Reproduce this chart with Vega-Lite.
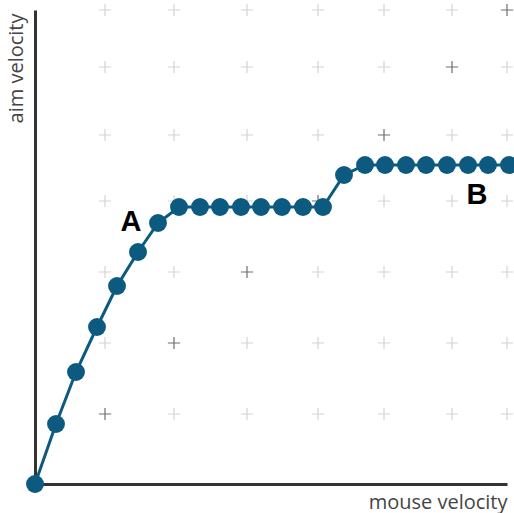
{
  "$schema": "https://vega.github.io/schema/vega-lite/v6.json",
  "width": 472,
  "height": 474,
  "autosize": {"type": "none"},
  "padding": {"left": 35, "top": 10, "right": 7, "bottom": 29},
  "background": "white",
  "config": {"view": {"stroke": null}, "font": "Open Sans"},
  "datasets": {
    "grid": [
      {"gx": 70, "gy": 70, "diag": "yes"}, {"gx": 139, "gy": 70, "diag": "no"}, {"gx": 212, "gy": 70, "diag": "no"}, {"gx": 283, "gy": 70, "diag": "no"}, {"gx": 349, "gy": 70, "diag": "no"}, {"gx": 417, "gy": 70, "diag": "no"}, {"gx": 472, "gy": 70, "diag": "no"},
      {"gx": 70, "gy": 141, "diag": "no"}, {"gx": 139, "gy": 141, "diag": "yes"}, {"gx": 212, "gy": 141, "diag": "no"}, {"gx": 283, "gy": 141, "diag": "no"}, {"gx": 349, "gy": 141, "diag": "no"}, {"gx": 417, "gy": 141, "diag": "no"}, {"gx": 472, "gy": 141, "diag": "no"},
      {"gx": 70, "gy": 212, "diag": "no"}, {"gx": 139, "gy": 212, "diag": "no"}, {"gx": 212, "gy": 212, "diag": "yes"}, {"gx": 283, "gy": 212, "diag": "no"}, {"gx": 349, "gy": 212, "diag": "no"}, {"gx": 417, "gy": 212, "diag": "no"}, {"gx": 472, "gy": 212, "diag": "no"},
      {"gx": 70, "gy": 283, "diag": "no"}, {"gx": 139, "gy": 283, "diag": "no"}, {"gx": 212, "gy": 283, "diag": "no"}, {"gx": 283, "gy": 283, "diag": "yes"}, {"gx": 349, "gy": 283, "diag": "no"}, {"gx": 417, "gy": 283, "diag": "no"}, {"gx": 472, "gy": 283, "diag": "no"},
      {"gx": 70, "gy": 349, "diag": "no"}, {"gx": 139, "gy": 349, "diag": "no"}, {"gx": 212, "gy": 349, "diag": "no"}, {"gx": 283, "gy": 349, "diag": "no"}, {"gx": 349, "gy": 349, "diag": "yes"}, {"gx": 417, "gy": 349, "diag": "no"}, {"gx": 472, "gy": 349, "diag": "no"},
      {"gx": 70, "gy": 417, "diag": "no"}, {"gx": 139, "gy": 417, "diag": "no"}, {"gx": 212, "gy": 417, "diag": "no"}, {"gx": 283, "gy": 417, "diag": "no"}, {"gx": 349, "gy": 417, "diag": "no"}, {"gx": 417, "gy": 417, "diag": "yes"}, {"gx": 472, "gy": 417, "diag": "no"},
      {"gx": 70, "gy": 474, "diag": "no"}, {"gx": 139, "gy": 474, "diag": "no"}, {"gx": 212, "gy": 474, "diag": "no"}, {"gx": 283, "gy": 474, "diag": "no"}, {"gx": 349, "gy": 474, "diag": "no"}, {"gx": 417, "gy": 474, "diag": "no"}, {"gx": 472, "gy": 474, "diag": "yes"}
    ],
    "curve": [
      {"mouse": 0, "aim": 0}, {"mouse": 21, "aim": 60}, {"mouse": 41, "aim": 112}, {"mouse": 62, "aim": 157},
      {"mouse": 82, "aim": 198}, {"mouse": 103, "aim": 232}, {"mouse": 123, "aim": 261}, {"mouse": 144, "aim": 277},
      {"mouse": 165, "aim": 277}, {"mouse": 185, "aim": 277}, {"mouse": 206, "aim": 277}, {"mouse": 226, "aim": 277},
      {"mouse": 247, "aim": 277}, {"mouse": 268, "aim": 277}, {"mouse": 288, "aim": 277}, {"mouse": 309, "aim": 309},
      {"mouse": 330, "aim": 319}, {"mouse": 350, "aim": 319}, {"mouse": 371, "aim": 319}, {"mouse": 391, "aim": 319},
      {"mouse": 412, "aim": 319}, {"mouse": 433, "aim": 319}, {"mouse": 453, "aim": 319}, {"mouse": 474, "aim": 319}
    ],
    "labels": [
      {"lx": 96, "ly": 262, "label": "A"},
      {"lx": 442, "ly": 289, "label": "B"}
    ]
  },
  "layer": [
    {
      "data": {"name": "grid"},
      "mark": {"type": "point", "shape": "M-1,0L1,0M0,-1L0,1", "filled": false, "strokeWidth": 1.2, "size": 150, "opacity": 1},
      "encoding": {
        "x": {
          "field": "gx", "type": "quantitative",
          "scale": {"domain": [0, 472], "nice": false, "zero": false},
          "axis": {
            "title": "mouse velocity", "domain": true, "domainColor": "#333333", "domainWidth": 3,
            "ticks": false, "labels": false, "grid": false,
            "titleX": 472, "titleY": 18, "titleAlign": "right", "titleBaseline": "middle",
            "titleFontWeight": "normal", "titleFontSize": 20, "titleColor": "#444444", "titleFont": "Open Sans"
          }
        },
        "y": {
          "field": "gy", "type": "quantitative",
          "scale": {"domain": [0, 474], "nice": false, "zero": false},
          "axis": {
            "title": "aim velocity", "domain": true, "domainColor": "#333333", "domainWidth": 3,
            "ticks": false, "labels": false, "grid": false,
            "titleAngle": 270, "titleX": -19, "titleY": 3, "titleAlign": "right", "titleBaseline": "middle",
            "titleFontWeight": "normal", "titleFontSize": 20, "titleColor": "#444444", "titleFont": "Open Sans"
          }
        },
        "color": {"field": "diag", "type": "nominal", "scale": {"domain": ["no", "yes"], "range": ["#d4d4d4", "#6e6e6e"]}, "legend": null}
      }
    },
    {
      "data": {"name": "curve"},
      "mark": {"type": "line", "color": "#0c5a7f", "strokeWidth": 3, "point": {"filled": true, "size": 320, "color": "#0c5a7f", "opacity": 1}},
      "encoding": {
        "x": {"field": "mouse", "type": "quantitative"},
        "y": {"field": "aim", "type": "quantitative"}
      }
    },
    {
      "data": {"name": "labels"},
      "mark": {"type": "text", "fontWeight": "bold", "fontSize": 29, "font": "Liberation Sans", "color": "#000000", "align": "center", "baseline": "middle"},
      "encoding": {
        "x": {"field": "lx", "type": "quantitative"},
        "y": {"field": "ly", "type": "quantitative"},
        "text": {"field": "label", "type": "nominal"}
      }
    }
  ]
}
